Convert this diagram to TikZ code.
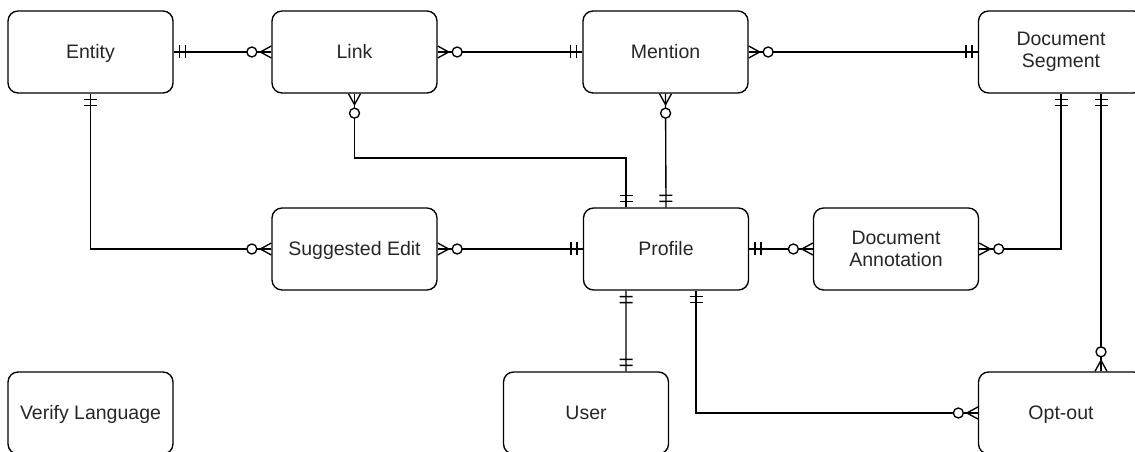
\documentclass[tikz,border=0pt]{standalone}
\usepackage{fontspec}
\setmainfont{Liberation Sans}
\usetikzlibrary{decorations.markings}
\newcommand\erfont{\fontsize{11.1}{12.6}\selectfont}
\tikzset{
  entity/.style={draw, line width=0.27mm, rounded corners=2mm, minimum width=3.3cm,
    minimum height=1.64cm, align=center, font=\erfont, text=black!85},
  oneline/.style={text height=1.38ex, text depth=0pt},
  rel/.style={line width=0.27mm},
  one start/.style={postaction={decorate, decoration={markings,
    mark=at position 0 with {\draw[rel] (6,-6.5) -- (6,6.5) (12,-6.5) -- (12,6.5);}}}},
  one end/.style={postaction={decorate, decoration={markings,
    mark=at position 1 with {\draw[rel] (-6,-6.5) -- (-6,6.5) (-12,-6.5) -- (-12,6.5);}}}},
  many start/.style={postaction={decorate, decoration={markings,
    mark=at position 0 with {\draw[rel] (0,-6) -- (11,0) -- (0,6);
      \draw[rel, fill=white] (19.5,0) circle[radius=1mm];}}}},
  many end/.style={postaction={decorate, decoration={markings,
    mark=at position 1 with {\draw[rel] (0,-6) -- (-11,0) -- (0,6);
      \draw[rel, fill=white] (-19.5,0) circle[radius=1mm];}}}}
}
\begin{document}
\begin{tikzpicture}[x=0.02cm, y=-0.02cm]
\clip (0,0) rectangle (1135,452);
% entities
\node [entity, oneline] (entity) at (90.5,52) {Entity};
\node [entity, oneline] (link) at (354.5,52) {Link};
\node [entity, oneline] (mention) at (665.5,52) {Mention};
\node [entity] (docseg) at (1061,52) {Document\\Segment};
\node [entity, oneline] (suggest) at (354.5,249) {Suggested Edit};
\node [entity, oneline] (profile) at (666,249) {Profile};
\node [entity] (docann) at (896,249) {Document\\Annotation};
\node [entity, oneline] (verify) at (90.5,413) {Verify Language};
\node [entity, oneline] (user) at (586,413) {User};
\node [entity, oneline] (optout) at (1061,413) {Opt-out};
% relations
\draw [rel, one start, many end] (entity) -- (link);
\draw [rel, many start, one end] (link) -- (mention);
\draw [rel, many start, one end] (mention) -- (docseg);
\draw [rel, one start, many end] (entity) |- (suggest);
\draw [rel, many start, one end] (suggest) -- (profile);
\draw [rel, one start, many end] (profile) -- (docann);
\draw [rel, many start, one end] (docann) -| (docseg);
\draw [rel, many start, one end] (link.south) |- (500,158) -| ([xshift=-0.8cm]profile.north);
\draw [rel, many start, one end] (mention.south) -- (profile.north);
\draw [rel, one start, one end] ([xshift=-0.8cm]profile.south) -- ([xshift=0.8cm]user.north);
\draw [rel, one start, many end] ([xshift=0.6cm]profile.south) |- (optout);
\draw [rel, one start, many end] ([xshift=0.8cm]docseg.south) -- ([xshift=0.8cm]optout.north);
\end{tikzpicture}
\end{document}
